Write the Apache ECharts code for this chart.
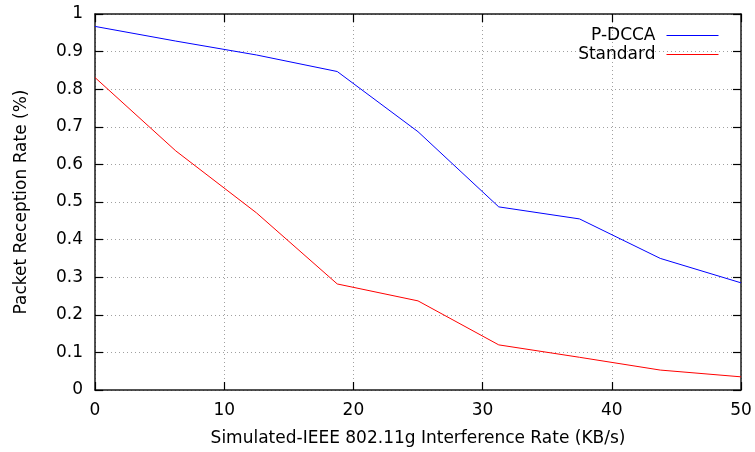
<!DOCTYPE html>
<html><head><meta charset="utf-8">
<script src="https://cdn.jsdelivr.net/npm/echarts@6/dist/echarts.min.js"></script>
<style>html,body{margin:0;padding:0;background:#fff}#c{width:755px;height:452px}</style>
</head><body><div id="c"></div>
<script>
const xValues = [0, 6.25, 12.5, 18.75, 25, 31.25, 37.5, 43.75, 50];
const pdcca = [0.967, 0.928, 0.891, 0.847, 0.687, 0.487, 0.455, 0.350, 0.285];
const standard = [0.831, 0.636, 0.471, 0.282, 0.237, 0.120, 0.087, 0.053, 0.035];
const seriesNames = ['P-DCCA', 'Standard'];
const xTitle = 'Simulated-IEEE 802.11g Interference Rate (KB/s)';
const yTitle = 'Packet Reception Rate (%)';

const font = 'DejaVu Sans';
const fs = 17;
const chart = echarts.init(document.getElementById('c'), null, {renderer: 'canvas'});
const pair = (ys) => xValues.map((x, i) => [x, ys[i]]);
const gridLine = {show: true, lineStyle: {color: '#a0a0a0', width: 1, type: [1, 3]}};
const borderLine = {show: true, onZero: false, lineStyle: {color: '#1a1a1a', width: 1.5}};
const tick = {show: true, inside: true, length: 8, lineStyle: {color: '#000', width: 1.2}};
chart.setOption({
  animation: false,
  textStyle: {fontFamily: font},
  grid: {left: 95, right: 14, top: 14, bottom: 62, containLabel: false},
  legend: {
    orient: 'vertical', right: 31, top: 22, align: 'right',
    itemWidth: 52, itemHeight: 14, itemGap: 2,
    itemStyle: {opacity: 0},
    lineStyle: {width: 1},
    textStyle: {fontFamily: font, fontSize: fs, color: '#000', padding: [0, 6, 0, 0]},
    data: seriesNames
  },
  xAxis: [{
    type: 'value', min: 0, max: 50, interval: 10,
    name: xTitle, nameLocation: 'middle', nameGap: 40,
    nameTextStyle: {fontFamily: font, fontSize: fs, color: '#000'},
    axisLine: borderLine, axisTick: tick,
    axisLabel: {fontFamily: font, fontSize: fs, color: '#000', margin: 12},
    splitLine: gridLine
  }, {
    type: 'value', min: 0, max: 50, interval: 10, position: 'top',
    axisLine: borderLine, axisTick: tick,
    axisLabel: {show: false}, splitLine: {show: false}
  }],
  yAxis: [{
    type: 'value', min: 0, max: 1, interval: 0.1,
    name: yTitle, nameLocation: 'middle', nameGap: 65, nameRotate: 90,
    nameTextStyle: {fontFamily: font, fontSize: fs, color: '#000'},
    axisLine: borderLine, axisTick: tick,
    axisLabel: {fontFamily: font, fontSize: fs, color: '#000', margin: 12,
      formatter: v => String(Math.round(v * 10) / 10)},
    splitLine: gridLine
  }, {
    type: 'value', min: 0, max: 1, interval: 0.1, position: 'right',
    axisLine: borderLine, axisTick: tick,
    axisLabel: {show: false}, splitLine: {show: false}
  }],
  series: [
    {name: seriesNames[0], type: 'line', data: pair(pdcca), symbol: 'none',
     color: '#0000ff', lineStyle: {color: '#0000ff', width: 1}, itemStyle: {color: '#0000ff'}},
    {name: seriesNames[1], type: 'line', data: pair(standard), symbol: 'none',
     color: '#ff0000', lineStyle: {color: '#ff0000', width: 1}, itemStyle: {color: '#ff0000'}}
  ]
});
</script></body></html>
